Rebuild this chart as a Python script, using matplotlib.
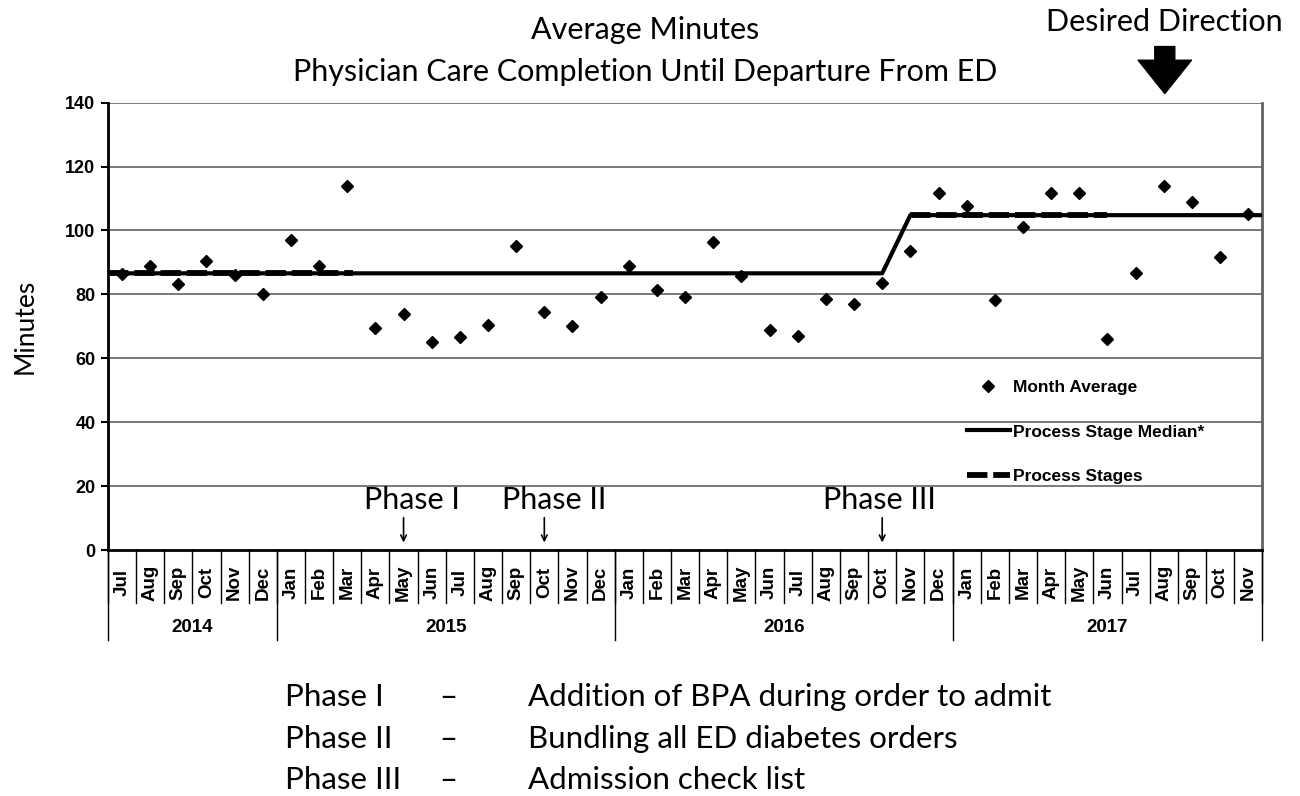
import matplotlib.pyplot as plt
import numpy as np

months = ["Jul", "Aug", "Sep", "Oct", "Nov", "Dec",
          "Jan", "Feb", "Mar", "Apr", "May", "Jun", "Jul", "Aug", "Sep", "Oct", "Nov", "Dec",
          "Jan", "Feb", "Mar", "Apr", "May", "Jun", "Jul", "Aug", "Sep", "Oct", "Nov", "Dec",
          "Jan", "Feb", "Mar", "Apr", "May", "Jun", "Jul", "Aug", "Sep", "Oct", "Nov"]
years = ["2014", "2015", "2016", "2017"]
months_per_year = [6, 12, 12, 11]

month_avg = [86.5, 89.0, 83.4, 90.6, 86.2, 80.0,
             97.0, 89.0, 114.0, 69.6, 74.0, 65.0, 66.8, 70.5, 95.0, 74.6, 70.2, 79.3,
             89.0, 81.5, 79.3, 96.5, 85.9, 69.0, 67.0, 78.7, 77.0, 83.7, 93.7, 111.6,
             107.8, 78.4, 101.2, 111.6, 111.6, 66.1, 86.8, 113.8, 109.0, 91.8, 105.3]

median_low, median_high = 86.6, 104.8
stage_median = [median_low] * 28 + [median_high] * 13
# month ranges of the dashed "process stages" segments
stage_spans = [(-0.5, 8.2, median_low), (28.0, 35.0, median_high)]

phases = ["Phase I", "Phase II", "Phase III"]
phase_month = [10, 15, 27]
phase_desc = ["Addition of BPA during order to admit",
              "Bundling all ED diabetes orders",
              "Admission check list"]

title_font = "Lato"
bold_font = "Liberation Sans"

fig = plt.figure(figsize=(13, 7.96), dpi=100)
ax = fig.add_axes([0.083, 0.309, 0.888, 0.562])

n = len(months)
x = np.arange(n)
ax.set_xlim(-0.5, n - 0.5)
ax.set_ylim(0, 140)

# median line, stretched to the plot edges
xm = np.concatenate([[-0.5], x, [n - 0.5]])
ym = np.concatenate([[stage_median[0]], stage_median, [stage_median[-1]]])
med_line, = ax.plot(xm, ym, color="black", lw=3, zorder=3)

stage_line = None
for a, b, v in stage_spans:
    stage_line, = ax.plot([a, b], [v, v], color="black", lw=4.2, ls=(0, (3.5, 1)),
                          zorder=3)

avg_line, = ax.plot(x, month_avg, ls="none", marker="D", ms=6.5, color="black",
                    zorder=4)

# grid and frame
ax.set_yticks(np.arange(0, 141, 20))
for v in range(20, 141, 20):
    ax.axhline(v, color="#707070", lw=1.3, zorder=1)
ax.set_yticklabels([str(v) for v in range(0, 141, 20)], fontfamily=bold_font,
                   fontweight="bold", fontsize=13)
ax.tick_params(axis="y", length=5, width=1.5, direction="out", pad=4)
ax.set_xticks([])
ax.spines["top"].set_visible(False)
ax.spines["left"].set_linewidth(2)
ax.spines["bottom"].set_linewidth(2)
ax.spines["right"].set_color("#606060")
ax.spines["right"].set_linewidth(2)

ax.set_ylabel("Minutes", fontfamily=title_font, fontsize=19, labelpad=20)

# multi-level category axis
tr = ax.get_xaxis_transform()
for i, m in enumerate(months):
    ax.text(i, -0.073, m, rotation=90, ha="center", va="center", transform=tr,
            fontfamily=bold_font, fontweight="bold", fontsize=13.5)
for b in np.arange(-0.5, n, 1.0):
    ax.plot([b, b], [0, -0.118], transform=tr, color="black", lw=1, clip_on=False)
edges = np.concatenate([[0], np.cumsum(months_per_year)]) - 0.5
for b in edges:
    ax.plot([b, b], [0, -0.2], transform=tr, color="black", lw=1, clip_on=False)
for yr, a, b in zip(years, edges[:-1], edges[1:]):
    ax.text((a + b) / 2, -0.174, yr, ha="center", va="center", transform=tr,
            fontfamily=bold_font, fontweight="bold", fontsize=13.5)

# phase markers (label nudged off the arrow like the original)
for name, mi, dx in zip(phases, phase_month, [0.3, 0.35, -0.1]):
    ax.annotate("", xy=(mi, 1.5), xytext=(mi, 11),
                arrowprops=dict(arrowstyle="->", color="black", lw=1.2))
    ax.text(mi + dx, 15.8, name, ha="center", va="center",
            fontfamily=title_font, fontsize=22)

ax.legend([avg_line, med_line, stage_line],
          ["Month Average", "Process Stage Median*", "Process Stages"],
          loc="center left", bbox_to_anchor=(0.744, 0.264), frameon=False,
          borderpad=0, borderaxespad=0,
          labelspacing=1.7, handlelength=2.5, handletextpad=0.15,
          prop=dict(family=bold_font, weight="bold", size=12.5))

fig.text(0.496, 0.962, "Average Minutes", ha="center", va="center",
         fontfamily=title_font, fontsize=22)
fig.text(0.496, 0.909, "Physician Care Completion Until Departure From ED",
         ha="center", va="center", fontfamily=title_font, fontsize=22)

fig.text(0.896, 0.972, "Desired Direction", ha="center", va="center",
         fontfamily=title_font, fontsize=22)
ax.annotate("", xy=(0.896, 0.879), xytext=(0.896, 0.945),
            xycoords="figure fraction", textcoords="figure fraction",
            arrowprops=dict(arrowstyle="simple,head_length=1.0,head_width=1.6,tail_width=0.6",
                            fc="black", ec="black", mutation_scale=24))

for r, (name, desc) in enumerate(zip(phases, phase_desc)):
    yy = 0.124 - r * 0.052
    fig.text(0.219, yy, name, ha="left", va="center", fontfamily=title_font, fontsize=22.5)
    fig.text(0.338, yy, "\u2013", ha="left", va="center", fontfamily=title_font, fontsize=22.5)
    fig.text(0.406, yy, desc, ha="left", va="center", fontfamily=title_font, fontsize=22.5)

fig.savefig("out.png", dpi=100)
